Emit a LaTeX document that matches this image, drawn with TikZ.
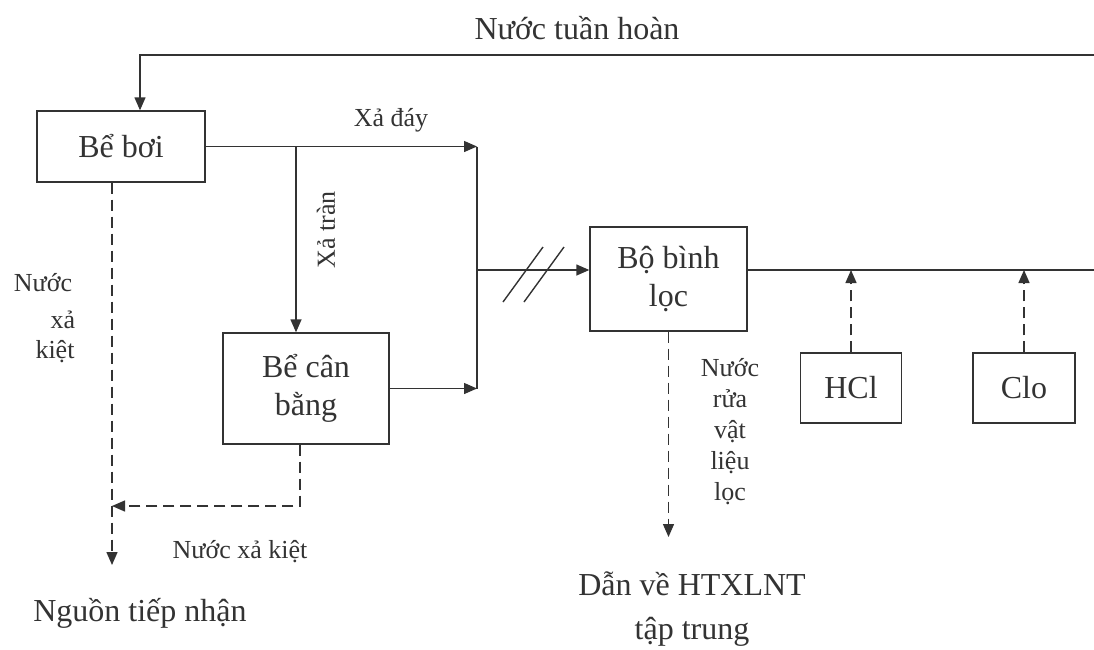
\documentclass[tikz,border=0pt]{standalone}
\usepackage{fontspec}
\setmainfont{Liberation Serif}
\usetikzlibrary{arrows.meta}
\definecolor{ink}{gray}{0.2}
\newcommand\bigtxt{\fontsize{32}{38}\selectfont}
\newcommand\smalltxt{\fontsize{26}{31}\selectfont}
\begin{document}
\begin{tikzpicture}[x=1pt,y=-1pt,
  every node/.style={text=ink},
  box/.style={draw=ink,line width=1.4pt,inner sep=0pt,align=center,font=\bigtxt},
  lbl/.style={inner sep=0pt,align=center,font=\smalltxt},
  biglbl/.style={inner sep=0pt,align=center,font=\bigtxt},
  conn/.style={draw=ink,line width=1.4pt},
  arr/.style={conn,-{Triangle[length=13pt,width=11pt]}},
  darr/.style={arr,dash pattern=on 11pt off 6pt}]
\useasboundingbox (0,0) rectangle (1094,649);
\fill[white] (0,0) rectangle (1094,649);
% boxes
\node[box,minimum width=168pt,minimum height=71pt] (bb) at (121,146.5) {Bể bơi};
\node[box,minimum width=166pt,minimum height=111pt] (bcb) at (306,388.5)
  {\fontsize{32}{43}\selectfont Bể cân\\bằng};
\node[box,minimum width=157pt,minimum height=104pt] (bloc) at (668.5,279)
  {\fontsize{32}{36}\selectfont Bộ bình\\lọc};
\node[box,minimum width=101pt,minimum height=70pt] (hcl) at (851,388) {HCl};
\node[box,minimum width=102pt,minimum height=70pt] (clo) at (1024,388) {Clo};
% labels
\node[biglbl] (tuanhoan) at (577,28) {Nước tuần hoàn};
\node[lbl] (xaday) at (391,120) {Xả đáy};
\node[lbl,rotate=90] (xatran) at (326,230) {Xả tràn};
\node[lbl,align=left] (nxk1) at (43,283) {Nước};
\node[lbl] (nxk2) at (63,320) {xả};
\node[lbl] (nxk3) at (55,352) {kiệt};
\node[lbl] (nxk) at (240,552) {Nước xả kiệt};
\node[biglbl] (ntn) at (140,613) {Nguồn tiếp nhận};
\node[lbl,font=\fontsize{26}{31}\selectfont] (rua) at (730,432) {Nước\\rửa\\vật\\liệu\\lọc};
\node[biglbl,font=\fontsize{32}{44}\selectfont] (htx) at (692,609) {Dẫn về HTXLNT\\tập trung};
% coordinates
\coordinate (rtop) at (1094,55);
\coordinate (jtop) at (477,146.5);
\coordinate (jmid) at (477,270);
\coordinate (jbot) at (477,388.5);
\coordinate (br) at (296,146.5);
\coordinate (rmid) at (1094,270);
\coordinate (dvtip) at (668.5,537);
\coordinate (ntip) at (112,565);
\coordinate (nk) at (300,506);
% connectors
\draw[arr] (rtop) -| ([xshift=19pt]bb.north);
\draw[arr] (bb.east) -- (jtop);
\draw[conn] (jtop) -- (jbot);
\draw[arr] (br) -- (br |- bcb.north);
\draw[arr] (bcb.east) -- (jbot);
\draw[arr] (jmid) -- (jmid -| bloc.west);
\draw[conn] (jmid -| bloc.east) -- (rmid);
\draw[conn] (503,302) -- (543,247);
\draw[conn] (524,302) -- (564,247);
\draw[darr] (hcl.north) -- (hcl.north |- rmid);
\draw[darr] (clo.north) -- (clo.north |- rmid);
\draw[darr] (bloc.south) -- (dvtip);
\draw[darr] (bb.south -| ntip) -- (ntip);
\draw[darr] (bcb.south -| nk) -- (nk) -- (nk -| ntip);
\end{tikzpicture}
\end{document}
